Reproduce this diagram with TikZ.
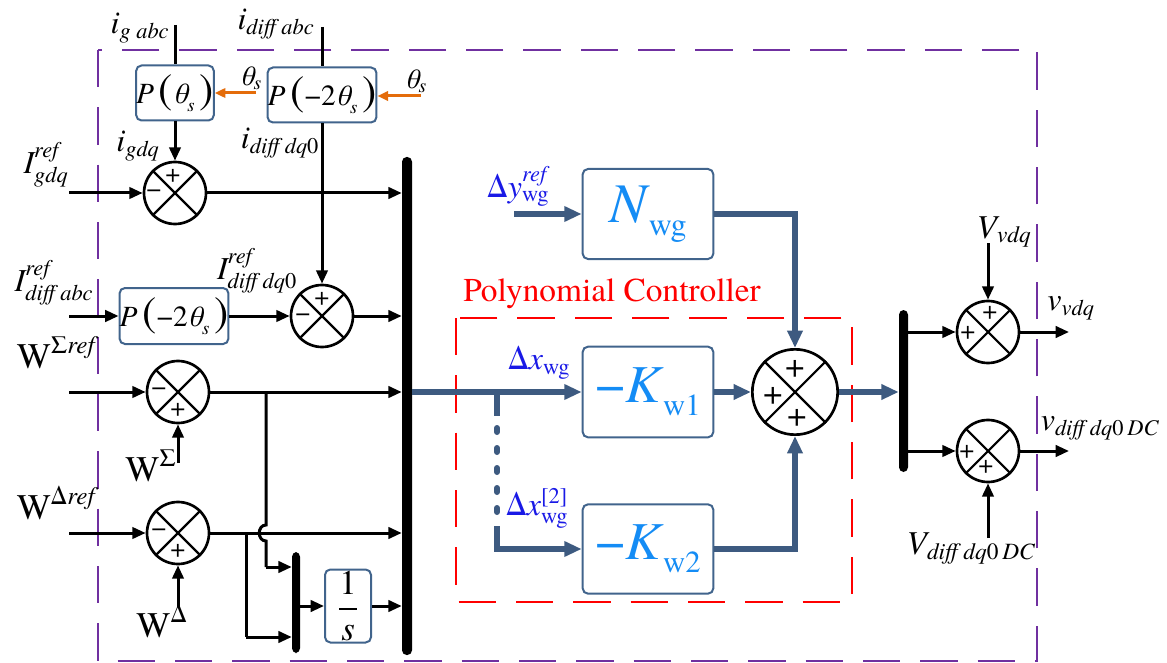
\documentclass[tikz,border=0pt]{standalone}
\usepackage{amsmath}
\usepackage{fontspec}
\setmainfont{texgyretermes}[Extension=.otf, UprightFont=*-regular, ItalicFont=*-italic, BoldFont=*-bold, BoldItalicFont=*-bolditalic]
\usetikzlibrary{arrows.meta,calc}
\definecolor{boxc}{RGB}{65,100,140}
\definecolor{linkc}{RGB}{61,90,128}
\definecolor{ktext}{RGB}{20,140,245}
\definecolor{dtext}{RGB}{25,25,230}
\definecolor{purp}{RGB}{112,48,160}
\definecolor{redc}{RGB}{255,0,0}
\definecolor{orc}{RGB}{228,108,10}
\newcommand\mi[1]{\text{\itshape #1}}
\newcommand\up[1]{\text{\upshape #1}}
\newcommand\fs[1]{\fontsize{#1}{#1}\selectfont}
\tikzset{
  lab/.style={font=\fs{24}, inner sep=0},
  blk/.style={draw=boxc, line width=1.5pt, rounded corners=4pt, fill=white, inner sep=0},
  sumc/.style={circle, draw, line width=2pt, minimum size=46.5pt, inner sep=0},
  ln/.style={line width=2.25pt},
  arr/.style={ln, -{Triangle[length=10pt,width=8.5pt]}},
  bl/.style={draw=linkc, line width=4.5pt},
  blarr/.style={bl, -{Triangle[length=13pt,width=11pt]}},
  ora/.style={draw=orc, line width=2.25pt, -{Triangle[length=8pt,width=7pt]}},
  busn/.style={fill=black, minimum width=7.5pt, inner sep=0, rounded corners=3.5pt},
  sgn/.style={font=\fs{20}, inner sep=0},
  pur/.style={draw=purp, line width=1.5pt, dash pattern=on 28pt off 15pt},
  redd/.style={draw=redc, line width=1.5pt, dash pattern=on 28pt off 15pt},
}
\newcommand\crossit[1]{\draw[line width=1.6pt] (#1.north west) -- (#1.south east) (#1.north east) -- (#1.south west);}
\begin{document}
\begin{tikzpicture}[x=0.75pt,y=-0.75pt]
\useasboundingbox (0,0) rectangle (1167,663);
% frames
\draw[pur] (98,50) rectangle (1037,661);
\draw[redd] (456,318) rectangle (852,602);
% buses
\node[busn, minimum height=373.5pt] (bus) at (407,406) {};
\node[busn, minimum width=6pt, minimum height=75.75pt] (sb) at (296,602.5) {};
\node[busn, minimum width=6.75pt, minimum height=121.5pt] (b2) at (903.5,391) {};
% blocks
\node[blk, minimum width=55.5pt, minimum height=41.25pt] (pA) at (175,93)
  {\fs{22}{\itshape P}\,{\fs{32}(}{\itshape θ}\raisebox{-6pt}{\fs{14}\itshape s}\,{\fs{32})}};
\node[blk, minimum width=79.5pt, minimum height=41.25pt] (pB) at (322,95)
  {\fs{22}{\itshape P}\,{\fs{32}(}−2{\itshape θ}\raisebox{-6pt}{\fs{14}\itshape s}\,{\fs{32})}};
\node[blk, minimum width=78.75pt, minimum height=42pt] (pC) at (174,316)
  {\fs{22}{\itshape P}\,{\fs{32}(}−2{\itshape θ}\raisebox{-6pt}{\fs{14}\itshape s}\,{\fs{32})}};
\node[blk, minimum width=34.5pt, minimum height=54.75pt] (inv) at (348,606)
  {\fs{26}$\dfrac{\up{1}}{\mi{s}}$};
\node[blk, minimum width=98pt, minimum height=67.5pt] (N) at (648,214)
  {\color{ktext}{\fs{42}\itshape N}\,\raisebox{-10pt}{\fs{24}wg}};
\node[blk, minimum width=98pt, minimum height=68pt] (K1) at (648,392)
  {\color{ktext}{\fs{40}−\itshape K}\,\raisebox{-10pt}{\fs{23}w1}};
\node[blk, minimum width=98pt, minimum height=67pt] (K2) at (648,549)
  {\color{ktext}{\fs{40}−\itshape K}\,\raisebox{-10pt}{\fs{23}w2}};
% summing junctions
\node[sumc] (s1) at (175,193) {}; \crossit{s1}
\node[sumc] (s2) at (322,316) {}; \crossit{s2}
\node[sumc] (s3) at (178,392) {}; \crossit{s3}
\node[sumc] (s4) at (178,533) {}; \crossit{s4}
\node[sumc, minimum size=64pt] (sm) at (795,392) {}; \crossit{sm}
\node[sumc] (s5) at (988,332) {}; \crossit{s5}
\node[sumc] (s6) at (988,451) {}; \crossit{s6}
\node[sgn] (p1) at ($(s1)+(-2,-17)$) {+};
\node[sgn] (m1) at ($(s1)+(-21,1)$) {−};
\node[sgn] (p2) at ($(s2)+(0,-17)$) {+};
\node[sgn] (m2) at ($(s2)+(-19,2)$) {−};
\node[sgn] (m3) at ($(s3)+(-19,0)$) {−};
\node[sgn] (p3) at ($(s3)+(0,18)$) {+};
\node[sgn] (m4) at ($(s4)+(-19,0)$) {−};
\node[sgn] (p4) at ($(s4)+(0,18)$) {+};
\node[sgn, font=\fs{26}] (pm1) at ($(sm)+(0,-23)$) {+};
\node[sgn, font=\fs{26}] (pm2) at ($(sm)+(-22,4)$) {+};
\node[sgn, font=\fs{26}] (pm3) at ($(sm)+(2,26)$) {+};
\node[sgn] (p5a) at ($(s5)+(2,-19)$) {+};
\node[sgn] (p5b) at ($(s5)+(-20,1)$) {+};
\node[sgn] (p6a) at ($(s6)+(-21,1)$) {+};
\node[sgn] (p6b) at ($(s6)+(-2,16)$) {+};
% top inputs
\coordinate (ig) at (175,25);
\coordinate (id) at (322,27);
\draw[ln] (ig) -- (pA.north);
\draw[arr] (pA.south) -- (s1.north);
\draw[ln] (id) -- (pB.north);
\draw[arr] (pB.south) -- (s2.north);
\coordinate (t1) at (256,93);
\coordinate (t2) at (421,96);
\draw[ora] (t1) -- (t1 -| pA.east);
\draw[ora] (t2) -- (t2 -| pB.east);
% left inputs
\coordinate (in1) at (69,193);
\coordinate (in2) at (69,316);
\coordinate (in3) at (69,392);
\coordinate (in4) at (69,533);
\draw[arr] (in1) -- (s1.west);
\draw[arr] (in2) -- (pC.west);
\draw[arr] (pC.east) -- (s2.west);
\draw[arr] (in3) -- (s3.west);
\draw[arr] (in4) -- (s4.west);
\coordinate (ws) at (178,463);
\coordinate (wd) at (178,607);
\draw[arr] (ws) -- (s3.south);
\draw[arr] (wd) -- (s4.south);
% into main bus
\draw[arr] (s1.east) -- (s1.east -| bus.west);
\draw[arr] (s2.east) -- (s2.east -| bus.west);
\draw[arr] (s3.east) -- (s3.east -| bus.west);
\draw[arr] (s4.east) -- (s4.east -| bus.west);
\draw[arr] (inv.east) -- (inv.east -| bus.west);
% branches to small bus
\coordinate (j3) at (266,392);
\coordinate (j3b) at (266,567);
\draw[ln] (j3) -- (266,525) .. controls (257,525) and (257,541) .. (266,541) -- (j3b);
\draw[arr] (j3b) -- (j3b -| sb.west);
\coordinate (j4) at (246,533);
\coordinate (j4b) at (246,637);
\draw[ln] (j4) -- (j4b);
\draw[arr] (j4b) -- (j4b -| sb.west);
\draw[arr] (sb.east |- inv.west) -- (inv.west);
% blue part
\draw[blarr] (bus.east |- K1.west) -- (K1.west);
\coordinate (br) at (497,392);
\draw[bl] (br) -- (497,416);
\draw[bl, line cap=round, dash pattern=on 3pt off 12pt] (497,428) -- (497,518);
\coordinate (br2) at (497,526);
\draw[blarr] (br2) -- (br2 |- K2.west) -- (K2.west);
\coordinate (dy) at (514,214);
\draw[blarr] (dy) -- (N.west);
\draw[blarr] (N.east) -| (sm.north);
\draw[blarr] (K1.east) -- (sm.west);
\draw[blarr] (K2.east) -| (sm.south);
\draw[blarr] (sm.east) -- (sm.east -| b2.west);
% right part
\draw[arr] (b2.east |- s5.west) -- (s5.west);
\draw[arr] (b2.east |- s6.west) -- (s6.west);
\coordinate (vv) at (988,243);
\coordinate (vd) at (988,538);
\draw[arr] (vv) -- (s5.north);
\draw[arr] (vd) -- (s6.south);
\coordinate (o5) at (1069,332);
\coordinate (o6) at (1069,451);
\draw[arr] (s5.east) -- (o5);
\draw[arr] (s6.east) -- (o6);
% labels
\node[lab] (lig) at (140,28) {$\mi{i}_{\mi{g abc}}$};
\node[lab] (lid) at (276,24) {$\mi{i}_{\mi{diff abc}}$};
\node[lab, font=\fs{21}] (lth1) at (251,78) {$\mi{θ}_{\mi{s}}$};
\node[lab, font=\fs{21}] (lth2) at (416,81) {$\mi{θ}_{\mi{s}}$};
\node[lab] (ligdq) at (138,146) {$\mi{i}_{\mi{gdq}}$};
\node[lab] (lidq) at (280,143) {$\mi{i}_{\mi{diff dq}\up{0}}$};
\node[lab] (lIg) at (46,165) {$\mi{I}^{\mi{ref}}_{\mi{gdq}}$};
\node[lab] (lIda) at (54,283) {$\mi{I}^{\mi{ref}}_{\mi{diff abc}}$};
\node[lab] (lIdd) at (257,271) {$\mi{I}^{\mi{ref}}_{\mi{diff dq}\up{0}}$};
\node[lab, font=\fs{27}] (lWs) at (56,353) {$\up{W}^{\up{Σ}\mi{ref}}$};
\node[lab, font=\fs{27}] (lWs2) at (151,466) {$\up{W}^{\up{Σ}}$};
\node[lab, font=\fs{27}] (lWd) at (56,503) {$\up{W}^{\up{Δ}\mi{ref}}$};
\node[lab, font=\fs{27}] (lWd2) at (162,621) {$\up{W}^{\up{Δ}}$};
\node[lab, text=dtext] (ldy) at (518,186) {$\up{Δ}\mi{y}^{\mi{ref}}_{\up{wg}}$};
\node[lab, text=dtext] (ldx) at (539,363) {$\up{Δ}\mi{x}_{\up{wg}}$};
\node[lab, text=dtext] (ldx2) at (537,508) {$\up{Δ}\mi{x}^{\up{[2]}}_{\up{wg}}$};
\node[lab, text=redc, font=\fs{25}] (lpc) at (612,294) {Polynomial Controller};
\node[lab, font=\fs{25}] (lVv) at (1004,232) {$\mi{V}_{\mi{vdq}}$};
\node[lab] (lvv) at (1071,308) {$\mi{v}_{\mi{vdq}}$};
\node[lab] (lvd) at (1100,428) {$\mi{v}_{\mi{diff dq}\up{0}\,\mi{DC}}$};
\node[lab, font=\fs{25}] (lVd) at (971,549) {$\mi{V}_{\mi{diff dq}\up{0}\,\mi{DC}}$};
\end{tikzpicture}
\end{document}
